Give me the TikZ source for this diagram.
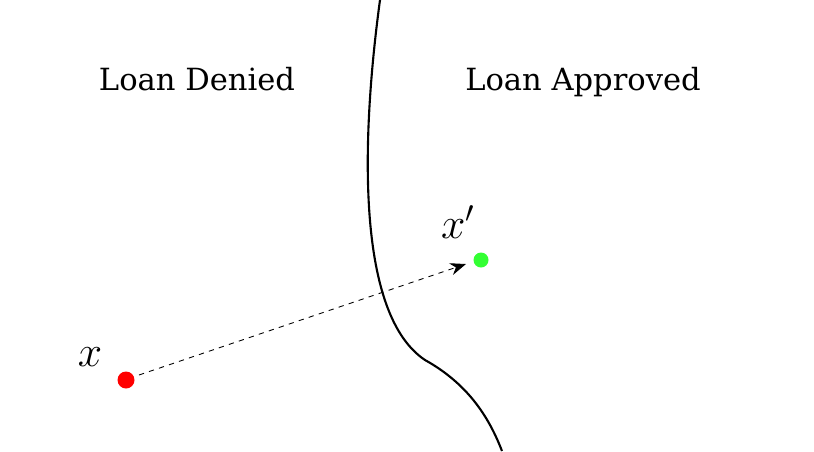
\documentclass[tikz,border=0pt]{standalone}
\usepackage{amsmath}
\usepackage{fontspec}
\setmainfont{DejaVu Serif}
\usetikzlibrary{arrows.meta}
\definecolor{approvegreen}{RGB}{51,255,51}

\begin{document}
\begin{tikzpicture}[x=0.02cm,y=-0.02cm]
        \useasboundingbox (0,0) rectangle (814,451);

        % decision boundary
        \draw[line width=1.2pt] (380,0) .. controls (365,110) and (350,310) .. (425,360)
            .. controls (470,385) and (490,420) .. (502,451);

        \node[anchor=base] (denied) at (197,90) {\fontsize{17.4}{21}\selectfont Loan Denied};
        \node[anchor=base] (approved) at (583,90) {\fontsize{17.4}{21}\selectfont Loan Approved};

        \fill[red] (126,380) circle (8.5);
        \fill[approvegreen] (481,260) circle (7.5);
        \coordinate (x) at (126,380);
        \coordinate (xp) at (481,260);

        \node[font=\fontsize{24}{28}\selectfont] (xlabel) at (90,357) {$x$};
        \node[font=\fontsize{24}{28}\selectfont] (xplabel) at (458,222) {$x'$};

        \draw[dashed,line width=0.5pt,-{Stealth[length=9pt,width=7pt]}] ([shift={(13,-5)}]x) -- ([shift={(-15,4)}]xp);
    \end{tikzpicture}
\end{document}
